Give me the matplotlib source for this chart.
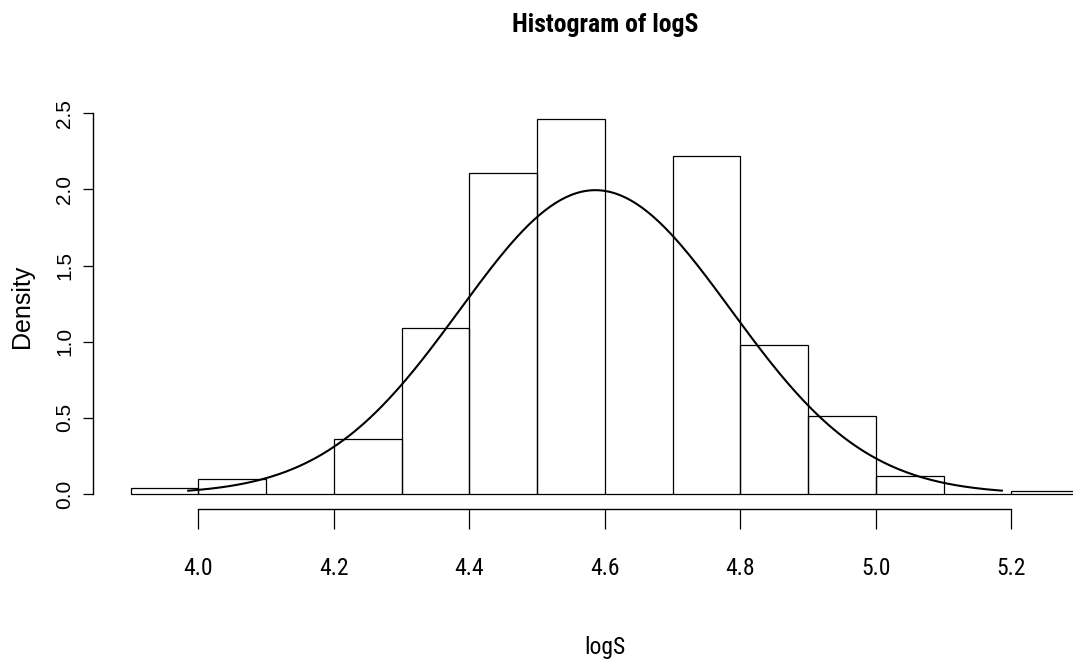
import os
import numpy as np
import matplotlib
matplotlib.use("Agg")
import matplotlib.pyplot as plt
from matplotlib import font_manager as fm

# ---- data ----
bin_edges = [3.9, 4.0, 4.1, 4.2, 4.3, 4.4, 4.5, 4.6, 4.7, 4.8, 4.9, 5.0, 5.1, 5.2, 5.3]
densities = [0.04, 0.10, 0.0, 0.36, 1.09, 2.11, 2.46, 0.0, 2.22, 0.98, 0.51, 0.12, 0.0, 0.02]
fit_mean = 4.586
fit_sd = 0.200
curve_from = 3.985
curve_to = 5.186
x_ticks = [4.0, 4.2, 4.4, 4.6, 4.8, 5.0, 5.2]
x_tick_labels = ["4.0", "4.2", "4.4", "4.6", "4.8", "5.0", "5.2"]
y_ticks = [0.0, 0.5, 1.0, 1.5, 2.0, 2.5]
y_tick_labels = ["0.0", "0.5", "1.0", "1.5", "2.0", "2.5"]
title = "Histogram of logS"
x_label = "logS"
y_label = "Density"


def find_condensed(bold):
    bad = ["italic", "oblique", "light", "thin", "medium", "black", "semi",
           "extra", "ultra", "mono", "serif", "cjk"]
    pri = ["liberationsansnarrow", "notosans", "roboto", "opensans", "dejavusans", "lato"]
    best = None
    for f in fm.fontManager.ttflist:
        b = os.path.basename(f.fname).lower().replace("_", "").replace("-", "")
        if not ("narrow" in b or "condensed" in b):
            continue
        if any(w in b for w in bad):
            continue
        if bold != ("bold" in b):
            continue
        rank = next((i for i, p in enumerate(pri) if b.startswith(p)), 99)
        if best is None or rank < best[0]:
            best = (rank, f.fname)
    return best[1] if best else None


reg_file = find_condensed(False)
bold_file = find_condensed(True)
if reg_file:
    narrow = fm.FontProperties(fname=reg_file)
else:
    narrow = fm.FontProperties(family=["Liberation Sans", "DejaVu Sans"])
if bold_file:
    narrow_bold = fm.FontProperties(fname=bold_file)
else:
    narrow_bold = fm.FontProperties(family=["Liberation Sans", "DejaVu Sans"], weight="bold")
regular = fm.FontProperties(family=["Liberation Sans", "DejaVu Sans"])

fig = plt.figure(figsize=(10.73, 6.69), dpi=100)
ax = fig.add_axes([0.08639, 0.23916, 0.95461, 0.60493])

lefts = np.array(bin_edges[:-1])
widths = np.diff(bin_edges)
ax.bar(lefts, densities, width=widths, align="edge", fill=False,
       edgecolor="black", linewidth=0.9)

xs = np.linspace(curve_from, curve_to, 300)
ys = np.exp(-0.5 * ((xs - fit_mean) / fit_sd) ** 2) / (fit_sd * np.sqrt(2 * np.pi))
ax.plot(xs, ys, color="black", linewidth=1.5)

# R-style limits (4% extension)
xr = bin_edges[-1] - bin_edges[0]
ax.set_xlim(bin_edges[0] - 0.04 * xr, bin_edges[-1] + 0.04 * xr)
ymax = max(densities)
ax.set_ylim(-0.04 * ymax, 1.04 * ymax)

for s in ["top", "right"]:
    ax.spines[s].set_visible(False)
ax.spines["left"].set_bounds(y_ticks[0], y_ticks[-1])
ax.spines["bottom"].set_bounds(x_ticks[0], x_ticks[-1])
ax.spines["left"].set_linewidth(1.0)
ax.spines["bottom"].set_linewidth(1.0)

ax.set_xticks(x_ticks)
ax.set_xticklabels(x_tick_labels, fontproperties=narrow, fontsize=17)
ax.tick_params(axis="x", direction="out", length=14.4, width=0.9, pad=20)

ax.set_yticks(y_ticks)
ax.set_yticklabels(y_tick_labels, fontproperties=regular, fontsize=15,
                   rotation=90, va="center")
ax.tick_params(axis="y", direction="out", length=7.2, width=0.9, pad=6)

ax.set_title(title, fontproperties=narrow_bold, fontsize=18.5,
             y=1.196, va="center", pad=0)
ax.set_xlabel(x_label, fontproperties=narrow, fontsize=17)
ax.xaxis.set_label_coords(0.5, -0.341)
ax.xaxis.label.set_va("center")
ax.set_ylabel(y_label, fontproperties=regular, fontsize=18)
ax.yaxis.set_label_coords(-0.069, 0.5)
ax.yaxis.label.set_va("center")

fig.savefig("out.png", dpi=100)
